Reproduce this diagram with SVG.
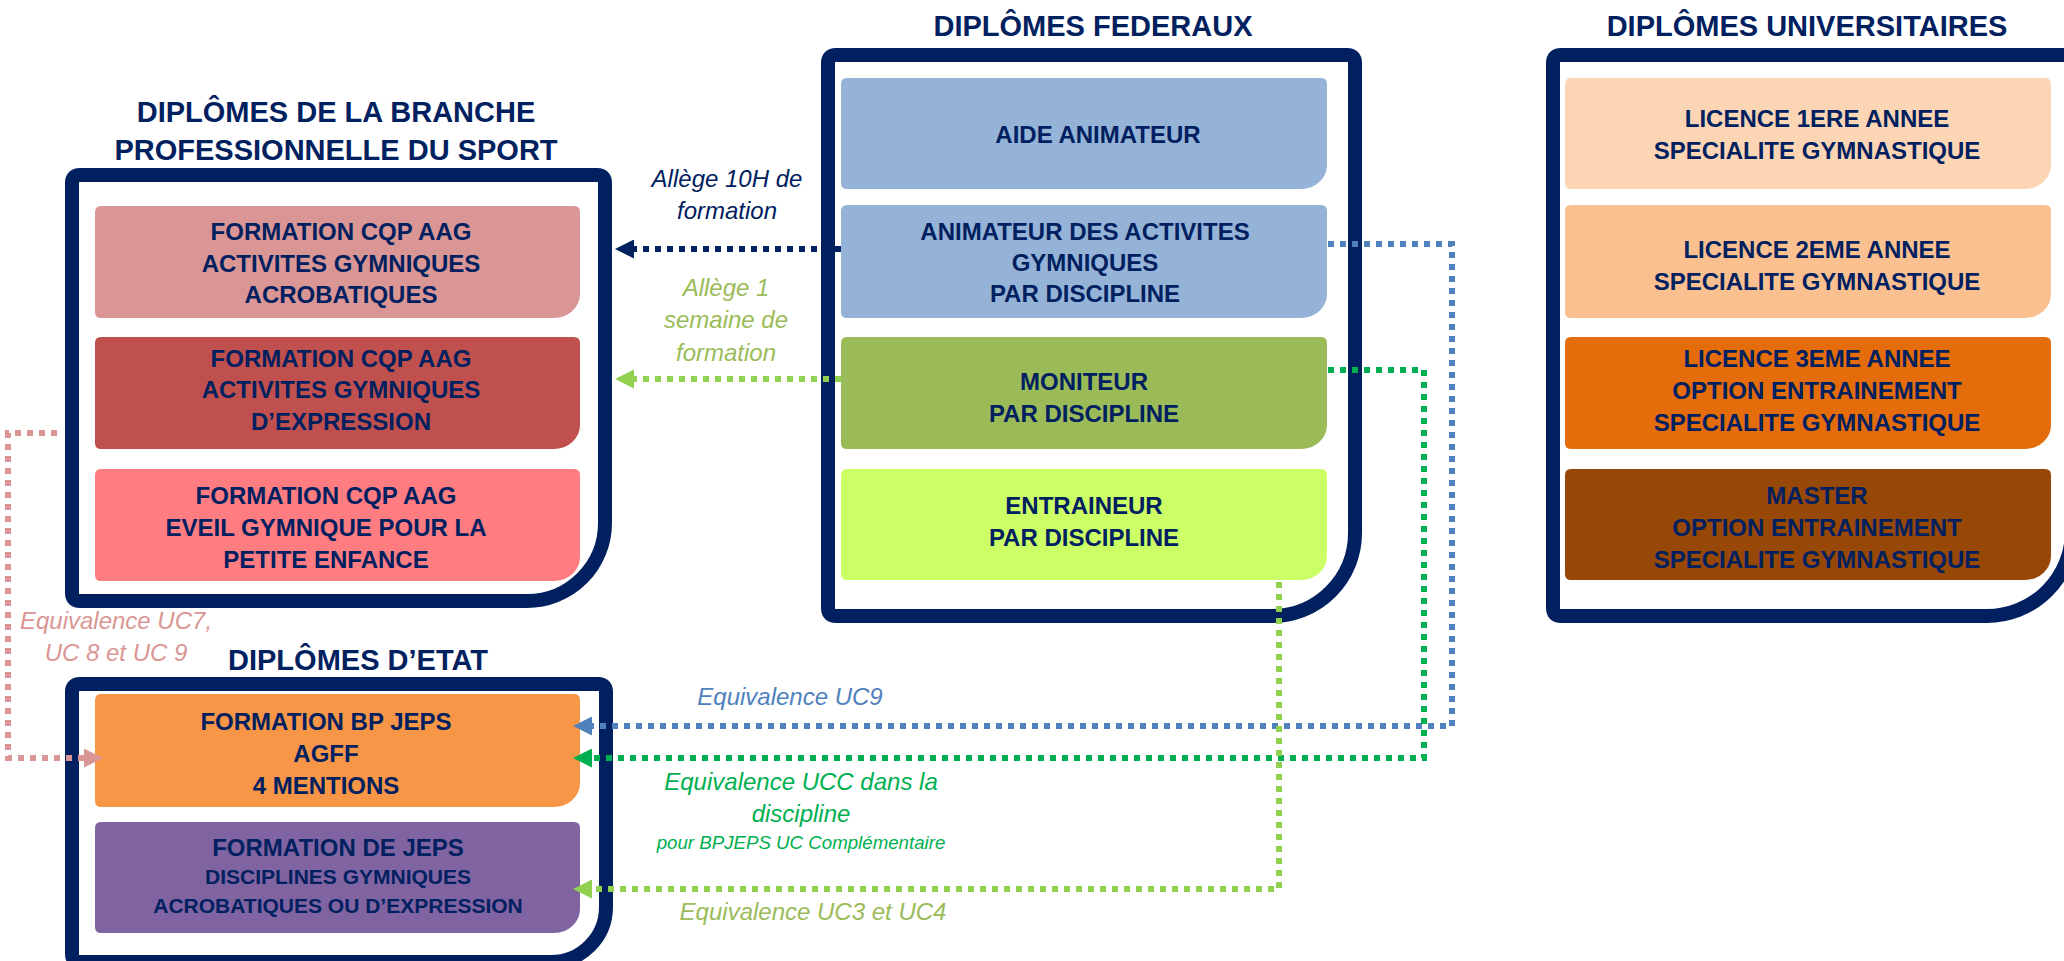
<svg xmlns="http://www.w3.org/2000/svg" width="2064" height="961" viewBox="0 0 2064 961">
<defs>
<style>
.t{font-family:"Liberation Sans",Arial,Helvetica,sans-serif;font-weight:bold;font-size:24px;fill:#002060;text-anchor:middle}
.h{font-size:29px}
.s{font-size:21px}
.l{font-family:"Liberation Sans",Arial,Helvetica,sans-serif;font-style:italic;font-size:24px;text-anchor:middle}
.frame{fill:#fff;stroke:#002060;stroke-width:14;stroke-linejoin:round}
.c{fill:none;stroke-width:6;stroke-dasharray:6 6}
</style>
<marker id="a-navy" viewBox="0 0 19 19" refX="0" refY="9.5" markerWidth="19" markerHeight="19" markerUnits="userSpaceOnUse" orient="auto"><path d="M0,0 L19,9.5 L0,19 Z" fill="#002060"/></marker>
<marker id="a-lg" viewBox="0 0 19 19" refX="0" refY="9.5" markerWidth="19" markerHeight="19" markerUnits="userSpaceOnUse" orient="auto"><path d="M0,0 L19,9.5 L0,19 Z" fill="#92D050"/></marker>
<marker id="a-blue" viewBox="0 0 19 19" refX="0" refY="9.5" markerWidth="19" markerHeight="19" markerUnits="userSpaceOnUse" orient="auto"><path d="M0,0 L19,9.5 L0,19 Z" fill="#4F81BD"/></marker>
<marker id="a-green" viewBox="0 0 19 19" refX="0" refY="9.5" markerWidth="19" markerHeight="19" markerUnits="userSpaceOnUse" orient="auto"><path d="M0,0 L19,9.5 L0,19 Z" fill="#00B050"/></marker>
<marker id="a-pink" viewBox="0 0 19 19" refX="0" refY="9.5" markerWidth="19" markerHeight="19" markerUnits="userSpaceOnUse" orient="auto"><path d="M0,0 L19,9.5 L0,19 Z" fill="#DA9694"/></marker>
</defs>
<rect width="2064" height="961" fill="#fff"/>

<!-- Branche professionnelle -->
<g id="branche">
<text class="t h" x="336" y="122">DIPLÔMES DE LA BRANCHE</text>
<text class="t h" x="336" y="160">PROFESSIONNELLE DU SPORT</text>
<path class="frame" d="M80,175 H597 Q605,175 605,183 V523 A78,78 0 0 1 527,601 H80 Q72,601 72,593 V183 Q72,175 80,175 Z"/>
</g>
<g id="cqp-acro">
<path fill="#DA9694" d="M101,206 H574 Q580,206 580,212 V294 A26,24 0 0 1 554,318 H101 Q95,318 95,312 V212 Q95,206 101,206 Z"/>
<text class="t" x="341" y="240">FORMATION CQP AAG</text>
<text class="t" x="341" y="271.5">ACTIVITES GYMNIQUES</text>
<text class="t" x="341" y="303">ACROBATIQUES</text>
</g>
<g id="cqp-expr">
<path fill="#C0504D" d="M101,337 H574 Q580,337 580,343 V425 A26,24 0 0 1 554,449 H101 Q95,449 95,443 V343 Q95,337 101,337 Z"/>
<text class="t" x="341" y="367">FORMATION CQP AAG</text>
<text class="t" x="341" y="398">ACTIVITES GYMNIQUES</text>
<text class="t" x="341" y="430">D’EXPRESSION</text>
</g>
<g id="cqp-eveil">
<path fill="#FF7C80" d="M101,469 H574 Q580,469 580,475 V557 A26,24 0 0 1 554,581 H101 Q95,581 95,575 V475 Q95,469 101,469 Z"/>
<text class="t" x="326" y="504">FORMATION CQP AAG</text>
<text class="t" x="326" y="536">EVEIL GYMNIQUE POUR LA</text>
<text class="t" x="326" y="568">PETITE ENFANCE</text>
</g>

<!-- Diplomes d'Etat -->
<g id="etat">
<text class="t h" x="358" y="670">DIPLÔMES D’ETAT</text>
<path class="frame" d="M80,684 H598 Q606,684 606,692 V907 A55,55 0 0 1 551,962 H80 Q72,962 72,954 V692 Q72,684 80,684 Z"/>
</g>
<g id="bpjeps">
<path fill="#F79646" d="M101,694 H574 Q580,694 580,700 V783 A26,24 0 0 1 554,807 H101 Q95,807 95,801 V700 Q95,694 101,694 Z"/>
<text class="t" x="326" y="730">FORMATION BP JEPS</text>
<text class="t" x="326" y="762">AGFF</text>
<text class="t" x="326" y="794">4 MENTIONS</text>
</g>
<g id="dejeps">
<path fill="#8064A2" d="M101,822 H574 Q580,822 580,828 V909 A26,24 0 0 1 554,933 H101 Q95,933 95,927 V828 Q95,822 101,822 Z"/>
<text class="t" x="338" y="856">FORMATION DE JEPS</text>
<text class="t s" x="338" y="884">DISCIPLINES GYMNIQUES</text>
<text class="t s" x="338" y="913">ACROBATIQUES OU D’EXPRESSION</text>
</g>

<!-- Diplomes federaux -->
<g id="federaux">
<text class="t h" x="1093" y="36">DIPLÔMES FEDERAUX</text>
<path class="frame" d="M836,55 H1347 Q1355,55 1355,63 V533 A83,83 0 0 1 1272,616 H836 Q828,616 828,608 V63 Q828,55 836,55 Z"/>
</g>
<g id="aide-animateur">
<path fill="#95B3D7" d="M847,78 H1321 Q1327,78 1327,84 V165 A26,24 0 0 1 1301,189 H847 Q841,189 841,183 V84 Q841,78 847,78 Z"/>
<text class="t" x="1098" y="142.5">AIDE ANIMATEUR</text>
</g>
<g id="animateur">
<path fill="#95B3D7" d="M847,205 H1321 Q1327,205 1327,211 V294 A26,24 0 0 1 1301,318 H847 Q841,318 841,312 V211 Q841,205 847,205 Z"/>
<text class="t" x="1085" y="240">ANIMATEUR DES ACTIVITES</text>
<text class="t" x="1085" y="271">GYMNIQUES</text>
<text class="t" x="1085" y="302">PAR DISCIPLINE</text>
</g>
<g id="moniteur">
<path fill="#9BBB59" d="M847,337 H1321 Q1327,337 1327,343 V425 A26,24 0 0 1 1301,449 H847 Q841,449 841,443 V343 Q841,337 847,337 Z"/>
<text class="t" x="1084" y="390">MONITEUR</text>
<text class="t" x="1084" y="422">PAR DISCIPLINE</text>
</g>
<g id="entraineur">
<path fill="#CCFF66" d="M847,469 H1321 Q1327,469 1327,475 V556 A26,24 0 0 1 1301,580 H847 Q841,580 841,574 V475 Q841,469 847,469 Z"/>
<text class="t" x="1084" y="514">ENTRAINEUR</text>
<text class="t" x="1084" y="546">PAR DISCIPLINE</text>
</g>

<!-- Diplomes universitaires -->
<g id="universitaires">
<text class="t h" x="1807" y="36">DIPLÔMES UNIVERSITAIRES</text>
<path class="frame" d="M1561,55 H2064 Q2072,55 2072,63 V531 A85,85 0 0 1 1987,616 H1561 Q1553,616 1553,608 V63 Q1553,55 1561,55 Z"/>
</g>
<g id="licence1">
<path fill="#FCD5B4" d="M1571,78 H2045 Q2051,78 2051,84 V165 A26,24 0 0 1 2025,189 H1571 Q1565,189 1565,183 V84 Q1565,78 1571,78 Z"/>
<text class="t" x="1817" y="127">LICENCE 1ERE ANNEE</text>
<text class="t" x="1817" y="158.5">SPECIALITE GYMNASTIQUE</text>
</g>
<g id="licence2">
<path fill="#FAC090" d="M1571,205 H2045 Q2051,205 2051,211 V294 A26,24 0 0 1 2025,318 H1571 Q1565,318 1565,312 V211 Q1565,205 1571,205 Z"/>
<text class="t" x="1817" y="257.5">LICENCE 2EME ANNEE</text>
<text class="t" x="1817" y="289.5">SPECIALITE GYMNASTIQUE</text>
</g>
<g id="licence3">
<path fill="#E46C0A" d="M1571,337 H2045 Q2051,337 2051,343 V425 A26,24 0 0 1 2025,449 H1571 Q1565,449 1565,443 V343 Q1565,337 1571,337 Z"/>
<text class="t" x="1817" y="367">LICENCE 3EME ANNEE</text>
<text class="t" x="1817" y="399">OPTION ENTRAINEMENT</text>
<text class="t" x="1817" y="430.5">SPECIALITE GYMNASTIQUE</text>
</g>
<g id="master">
<path fill="#974706" d="M1571,469 H2045 Q2051,469 2051,475 V556 A26,24 0 0 1 2025,580 H1571 Q1565,580 1565,574 V475 Q1565,469 1571,469 Z"/>
<text class="t" x="1817" y="504">MASTER</text>
<text class="t" x="1817" y="536">OPTION ENTRAINEMENT</text>
<text class="t" x="1817" y="568">SPECIALITE GYMNASTIQUE</text>
</g>

<!-- Connectors -->
<g id="connectors">
<path class="c" stroke="#002060" d="M841,249 H634" marker-end="url(#a-navy)"/>
<path class="c" stroke="#92D050" d="M841,379 H634" marker-end="url(#a-lg)"/>
<path class="c" stroke="#4F81BD" d="M1328,244 H1452 V726 H592" marker-end="url(#a-blue)"/>
<path class="c" stroke="#00B050" d="M1328,370 H1424 V758 H592" marker-end="url(#a-green)"/>
<path class="c" stroke="#92D050" d="M1279,582 V889 H592" marker-end="url(#a-lg)"/>
<path class="c" stroke="#DA9694" d="M57,433 H8 V758 H84" marker-end="url(#a-pink)"/>
<g id="connector-labels">
<text class="l" fill="#002060" x="727" y="187">Allège 10H de</text>
<text class="l" fill="#002060" x="727" y="219">formation</text>
<text class="l" fill="#9BBB59" x="726" y="296">Allège 1</text>
<text class="l" fill="#9BBB59" x="726" y="328">semaine de</text>
<text class="l" fill="#9BBB59" x="726" y="361">formation</text>
<text class="l" fill="#DA9694" x="116" y="629">Equivalence UC7,</text>
<text class="l" fill="#DA9694" x="116" y="661">UC 8 et UC 9</text>
<text class="l" fill="#4F81BD" x="790" y="705">Equivalence UC9</text>
<text class="l" fill="#00B050" x="801" y="790">Equivalence UCC dans la</text>
<text class="l" fill="#00B050" x="801" y="822">discipline</text>
<text class="l" fill="#00B050" x="801" y="849" style="font-size:18.7px">pour BPJEPS UC Complémentaire</text>
<text class="l" fill="#9BBB59" x="813" y="920">Equivalence UC3 et UC4</text>
</g>
</g>
</svg>
